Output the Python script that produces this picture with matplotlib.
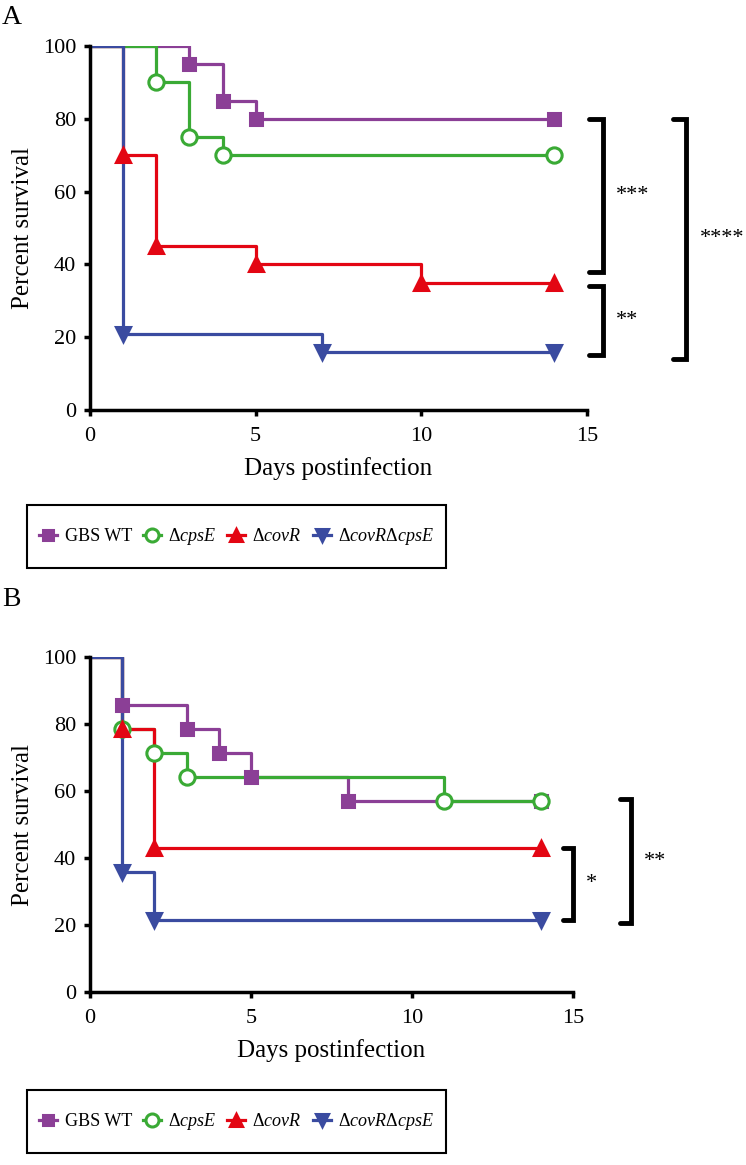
import numpy as np
import matplotlib
matplotlib.use("Agg")
import matplotlib.pyplot as plt
from matplotlib.lines import Line2D
from matplotlib.patches import Rectangle

plt.rcParams['font.family'] = ['Liberation Serif', 'DejaVu Serif']
plt.rcParams['mathtext.fontset'] = 'custom'
plt.rcParams['mathtext.rm'] = 'Liberation Serif'
plt.rcParams['mathtext.it'] = 'Liberation Serif:italic'

labels = ["GBS WT", r"$\Delta\mathit{cpsE}$", r"$\Delta\mathit{covR}$", r"$\Delta\mathit{covR}\Delta\mathit{cpsE}$"]
colors = ["#8B3F96", "#3AAA35", "#E30613", "#3A4BA0"]
markers = ["s", "o", "^", "v"]
msizes = [9, 11, 10, 10]

# panel A (days, percent survival)
days_a = [[0, 3, 4, 5, 14], [0, 2, 3, 4, 14], [0, 1, 2, 5, 10, 14], [0, 1, 7, 14]]
surv_a = [[100, 95, 85, 80, 80], [100, 90, 75, 70, 70], [100, 70, 45, 40, 35, 35], [100, 21, 16, 16]]

# panel B
days_b = [[0, 1, 3, 4, 5, 8, 14], [0, 1, 2, 3, 11, 14], [0, 1, 2, 14], [0, 1, 2, 14]]
surv_b = [[100, 85.7, 78.6, 71.4, 64.3, 57.1, 57.1], [100, 78.6, 71.4, 64.3, 57.1, 57.1],
          [100, 78.6, 42.9, 42.9], [100, 35.7, 21.4, 21.4]]

# significance brackets: (x_left, x_right, top, bottom, label)
brackets_a = [(15.05, 15.47, 80, 38, "***"), (15.05, 15.47, 34, 15, "**"), (17.6, 18.0, 80, 14, "****")]
brackets_b = [(14.7, 15.0, 43, 21.5, "*"), (16.45, 16.8, 57.5, 20.5, "**")]

W, H = 746, 1165
fig = plt.figure(figsize=(W / 100, H / 100), dpi=100)


def panel(rect, days, surv, brackets):
    ax = fig.add_axes(rect)
    for d, s, c in zip(days, surv, colors):
        ax.plot(d, s, drawstyle='steps-post', color=c, lw=2.3, zorder=2)
    for d, s, c, m, ms in zip(days, surv, colors, markers, msizes):
        mfc = 'white' if m == 'o' else c
        ax.plot(d[1:], s[1:], ls='none', marker=m, ms=ms, color=c, mfc=mfc, mew=2.2, zorder=3)
    ax.set_xlim(0, 15)
    ax.set_ylim(0, 100)
    ax.set_xticks([0, 5, 10, 15])
    ax.set_yticks(range(0, 101, 20))
    for sp in ['top', 'right']:
        ax.spines[sp].set_visible(False)
    for sp in ['left', 'bottom']:
        ax.spines[sp].set_linewidth(2.5)
    ax.tick_params(width=2.5, length=4, labelsize=16, pad=6)
    ax.tick_params(axis='x', pad=8)
    ax.set_xlabel("Days postinfection", fontsize=18, labelpad=8)
    ax.set_ylabel("Percent survival", fontsize=18, labelpad=6)
    for x0, x1, top, bot, txt in brackets:
        ax.plot([x0, x1, x1, x0], [top, top, bot, bot], color='black', lw=3.5,
                clip_on=False, solid_joinstyle='miter', solid_capstyle='round')
        ax.text(x1 + 0.4, (top + bot) / 2, txt, fontsize=16, va='center', ha='left')
    return ax


axA = panel([90 / W, 1 - 410 / H, (587 - 90) / W, (410 - 46) / H], days_a, surv_a, brackets_a)
axB = panel([90 / W, 1 - 992 / H, (573 - 90) / W, (992 - 657) / H], days_b, surv_b, brackets_b)

fig.text(2 / W, 1 - 18 / H, "A", fontsize=20, va='center')
fig.text(2 / W, 1 - 600 / H, "B", fontsize=20, va='center')

handles = [Line2D([], [], color=c, marker=m, ms=ms * 0.85, mfc=('white' if m == 'o' else c), mew=2.2, lw=2.3)
           for c, m, ms in zip(colors, markers, msizes)]

for top_px in [505, 1090]:
    x0, x1, h = 27, 446, 63
    fig.patches.append(Rectangle((x0 / W, 1 - (top_px + h) / H), (x1 - x0) / W, h / H,
                                 transform=fig.transFigure, fill=False, edgecolor='black', lw=1.5))
    fig.legend(handles, labels, loc='center', ncol=4,
               bbox_to_anchor=((x0 + x1) / 2 / W, 1 - (top_px + h / 2) / H),
               bbox_transform=fig.transFigure, borderaxespad=0, fontsize=13,
               handlelength=1.0, handletextpad=0.4, columnspacing=0.6,
               frameon=False, borderpad=0.0)

fig.savefig("out.png", dpi=100)
